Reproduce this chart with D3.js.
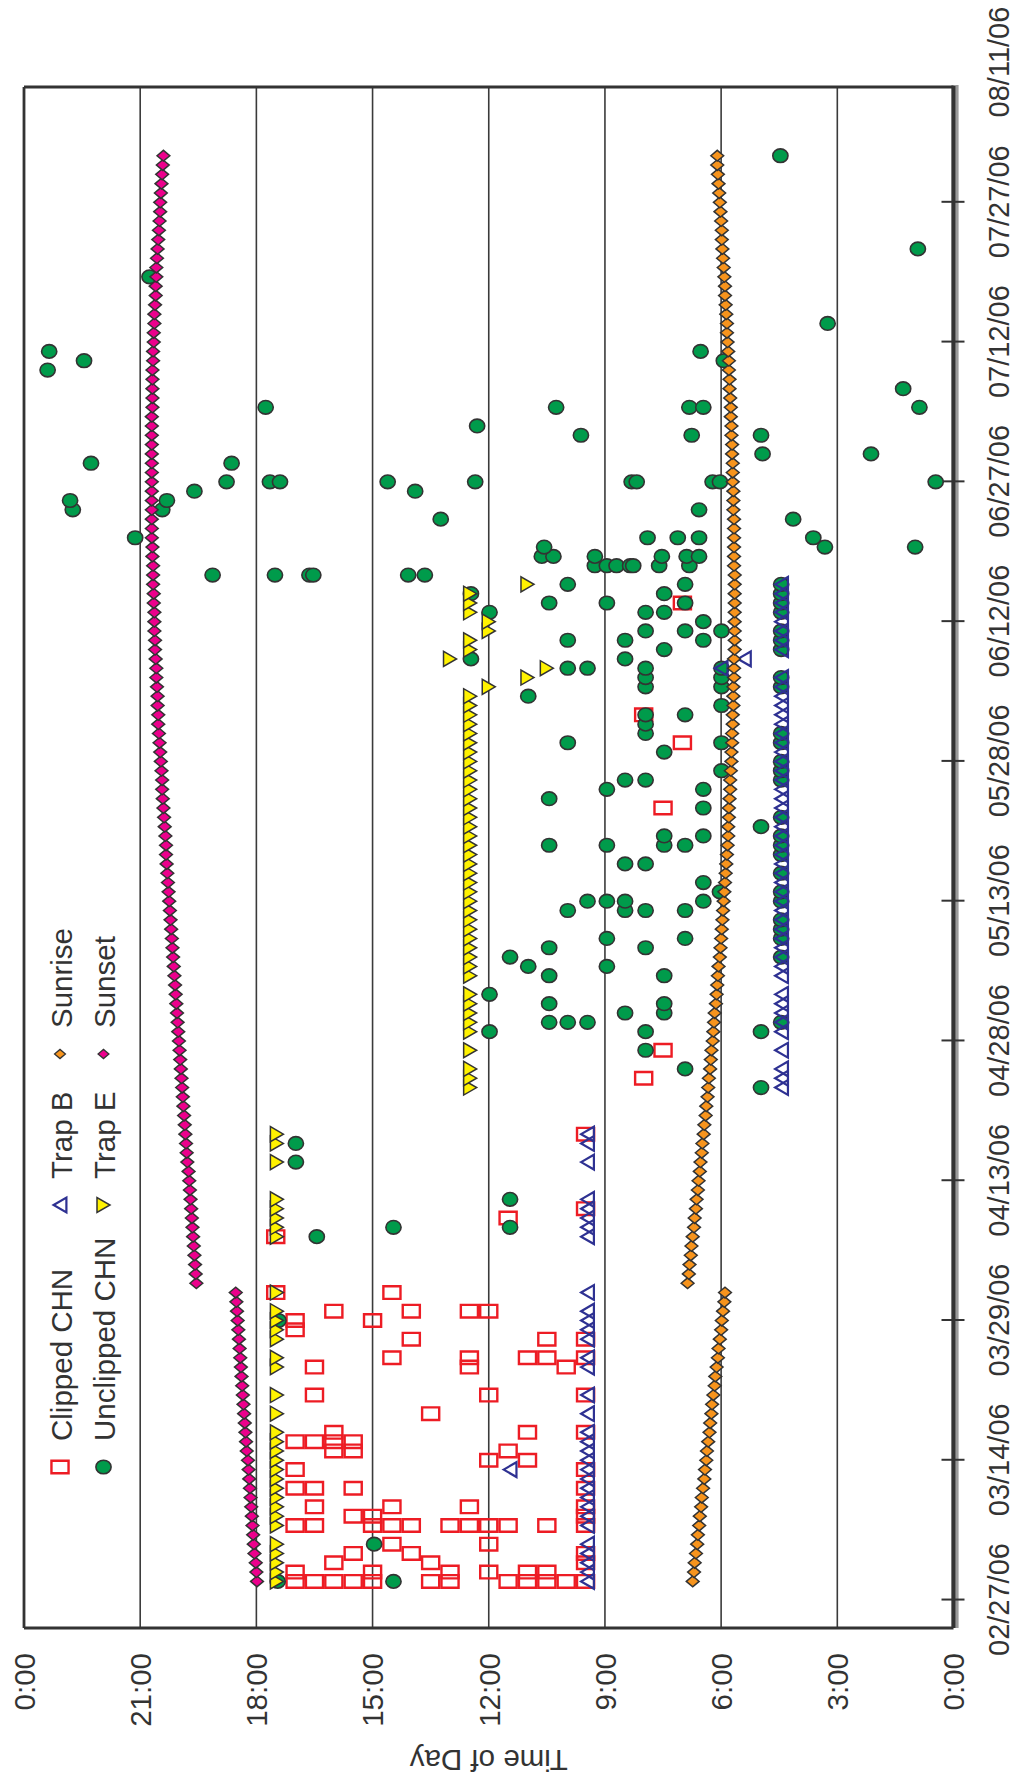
<!DOCTYPE html>
<html>
<head>
<meta charset="utf-8">
<script src="https://cdn.jsdelivr.net/npm/d3@7"></script>
<style>
  html, body { margin: 0; padding: 0; background: #fff; }
  svg { display: block; }
  text { font-family: "Liberation Sans", Arial, Helvetica, sans-serif; fill: #333; }
</style>
</head>
<body>
<svg id="chart" width="1016" height="1787"></svg>
<script>
// ---------------- data ----------------
const YEAR = 2006;
const dateTickLabels = ["02/27","03/14","03/29","04/13","04/28","05/13","05/28","06/12","06/27","07/12","07/27","08/11"];
const timeTicks = [0, 3, 6, 9, 12, 15, 18, 21, 24];

// Clipped CHN captures: [date, hour of day]
const clippedCHN = [
  ["03/01",17],["03/01",16.5],["03/01",16],["03/01",15.5],["03/01",15],["03/01",13.5],["03/01",13],["03/01",11.5],["03/01",11],["03/01",10.5],["03/01",10],["03/01",9.5],
  ["03/02",17],["03/02",15],["03/02",13],["03/02",12],["03/02",11],["03/02",10.5],
  ["03/03",16],["03/03",13.5],["03/03",9.5],
  ["03/04",15.5],["03/04",14],["03/04",9.5],
  ["03/05",14.5],["03/05",12],
  ["03/07",17],["03/07",16.5],["03/07",15],["03/07",14.5],["03/07",14],["03/07",13],["03/07",12.5],["03/07",12],["03/07",11.5],["03/07",10.5],["03/07",9.5],
  ["03/08",15.5],["03/08",15],["03/08",9.5],
  ["03/09",16.5],["03/09",14.5],["03/09",12.5],["03/09",9.5],
  ["03/11",17],["03/11",16.5],["03/11",15.5],["03/11",9.5],
  ["03/13",17],["03/13",9.5],
  ["03/14",12],["03/14",11],
  ["03/15",16],["03/15",15.5],["03/15",11.5],
  ["03/16",17],["03/16",16.5],["03/16",16],["03/16",15.5],
  ["03/17",16],["03/17",11],["03/17",9.5],
  ["03/19",13.5],
  ["03/21",16.5],["03/21",12],["03/21",9.5],
  ["03/24",16.5],["03/24",12.5],["03/24",10],
  ["03/25",14.5],["03/25",12.5],["03/25",11],["03/25",10.5],["03/25",9.5],
  ["03/27",14],["03/27",10.5],["03/27",9.5],
  ["03/28",17],
  ["03/29",17],["03/29",15],
  ["03/30",16],["03/30",14],["03/30",12.5],["03/30",12],
  ["04/01",17.5],["04/01",14.5],
  ["04/07",17.5],
  ["04/09",11.5],
  ["04/10",9.5],
  ["04/18",9.5],
  ["04/24",8],
  ["04/27",7.5],
  ["05/23",7.5],
  ["05/30",7],
  ["06/02",8],
  ["06/14",7]
];

// Unclipped CHN captures: [date, hour of day]
const unclippedCHN = [
  ["03/01",17.45],["03/01",14.46],["03/05",14.96],["03/29",17.43],["04/07",16.44],
  ["04/08",14.46],["04/08",11.45],["04/11",11.45],["04/15",16.98],["04/17",16.98],
  ["04/23",4.97],["04/25",6.93],["04/27",7.95],
  ["04/29",11.98],["04/29",7.95],["04/29",4.97],
  ["04/30",10.44],["04/30",9.96],["04/30",9.45],["04/30",4.45],
  ["05/01",8.48],["05/01",7.47],
  ["05/02",10.44],["05/02",7.47],
  ["05/03",11.98],
  ["05/05",10.44],["05/05",7.47],
  ["05/06",10.98],["05/06",8.95],
  ["05/07",11.45],["05/07",4.45],
  ["05/08",10.44],["05/08",7.95],
  ["05/09",8.95],["05/09",6.93],["05/09",4.45],
  ["05/10",4.45],["05/11",4.45],
  ["05/12",9.96],["05/12",8.48],["05/12",7.95],["05/12",6.93],
  ["05/13",9.45],["05/13",8.95],["05/13",8.48],["05/13",6.46],["05/13",4.45],
  ["05/14",6.03],["05/14",4.45],
  ["05/15",6.46],
  ["05/16",4.45],
  ["05/17",8.48],["05/17",7.95],
  ["05/18",4.45],
  ["05/19",10.44],["05/19",8.95],["05/19",7.47],["05/19",6.93],["05/19",4.45],
  ["05/20",7.47],["05/20",6.46],["05/20",4.45],
  ["05/21",4.97],
  ["05/22",4.45],
  ["05/23",6.46],
  ["05/24",10.44],
  ["05/25",8.95],["05/25",6.46],
  ["05/26",8.48],["05/26",7.95],["05/26",4.45],
  ["05/27",5.99],["05/27",4.45],
  ["05/28",4.45],
  ["05/29",7.47],
  ["05/30",9.96],["05/30",5.99],["05/30",4.45],
  ["05/31",7.95],["05/31",4.45],
  ["06/01",7.95],
  ["06/02",7.95],["06/02",6.93],
  ["06/03",5.99],
  ["06/04",10.98],
  ["06/05",7.95],["06/05",5.99],["06/05",4.45],
  ["06/06",7.95],["06/06",5.99],["06/06",4.45],
  ["06/07",9.96],["06/07",9.45],["06/07",7.95],["06/07",5.99],
  ["06/08",12.46],["06/08",8.48],
  ["06/09",7.47],["06/09",4.45],
  ["06/10",9.96],["06/10",8.48],["06/10",6.46],["06/10",4.45],
  ["06/11",7.95],["06/11",6.93],["06/11",5.99],["06/11",4.45],
  ["06/12",6.46],
  ["06/13",11.98],["06/13",7.95],["06/13",7.47],["06/13",4.45],
  ["06/14",10.44],["06/14",8.95],["06/14",6.93],["06/14",4.45],
  ["06/15",12.46],["06/15",7.47],["06/15",4.45],
  ["06/16",9.96],["06/16",6.93],["06/16",4.45],
  ["06/17",19.13],["06/17",17.52],["06/17",16.63],["06/17",16.53],["06/17",14.08],["06/17",13.65],
  ["06/18",9.26],["06/18",8.95],["06/18",8.7],["06/18",8.35],["06/18",8.27],["06/18",7.6],["06/18",6.82],
  ["06/19",10.63],["06/19",10.33],["06/19",9.26],["06/19",7.53],["06/19",6.89],["06/19",6.57],
  ["06/20",10.57],["06/20",3.32],["06/20",0.99],
  ["06/21",21.13],["06/21",7.9],["06/21",7.12],["06/21",6.57],["06/21",3.62],
  ["06/23",13.24],["06/23",4.14],
  ["06/24",22.74],["06/24",20.43],["06/24",6.57],
  ["06/25",22.81],["06/25",20.31],
  ["06/26",19.6],["06/26",13.9],
  ["06/27",18.77],["06/27",17.65],["06/27",17.39],["06/27",14.61],["06/27",12.35],["06/27",8.31],["06/27",8.18],["06/27",6.22],["06/27",6.03],["06/27",0.46],
  ["06/29",22.27],["06/29",18.64],
  ["06/30",4.93],["06/30",2.13],
  ["07/02",9.62],["07/02",6.76],["07/02",4.97],
  ["07/03",12.3],
  ["07/05",17.76],["07/05",10.26],["07/05",6.82],["07/05",6.46],["07/05",0.88],
  ["07/07",1.3],
  ["07/09",23.39],
  ["07/10",22.45],["07/10",5.93],
  ["07/11",23.35],["07/11",6.53],
  ["07/14",3.25],
  ["07/19",20.76],
  ["07/22",0.92],
  ["08/01",4.47]
];

// Trap checks, grouped by hour of day: [hour, [dates]]
const earlyTrapDays = ["03/01","03/02","03/03","03/04","03/05","03/07","03/08","03/09","03/10","03/11","03/12","03/13","03/14","03/15","03/16","03/17","03/19","03/21","03/24","03/25","03/27","03/28","03/29","03/30","04/01","04/07","04/08","04/09","04/10","04/11","04/15","04/17","04/18"];

const trapB = [
  [9.45, earlyTrapDays],
  [11.45, ["03/13"]],
  [4.44, ["04/23","04/24","04/25","04/27","04/29","04/30","05/01","05/02","05/03","05/05","05/06","05/07","05/08","05/09","05/10","05/11","05/12","05/13","05/14","05/15","05/16","05/17","05/18","05/19","05/20","05/21","05/22","05/23","05/24","05/25","05/26","05/27","05/28","05/29","05/30","05/31","06/01","06/02","06/03","06/04","06/05","06/06","06/09","06/10","06/11","06/12","06/13","06/14","06/15","06/16"]],
  [6.0, ["06/07"]],
  [5.4, ["06/08"]]
];

const trapE = [
  [17.47, earlyTrapDays],
  [12.48, ["04/23","04/24","04/25","04/27","04/29","04/30","05/01","05/02","05/03","05/05","05/06","05/07","05/08","05/09","05/10","05/11","05/12","05/13","05/14","05/15","05/16","05/17","05/18","05/19","05/20","05/21","05/22","05/23","05/24","05/25","05/26","05/27","05/28","05/29","05/30","05/31","06/01","06/02","06/03","06/04","06/09","06/10","06/13","06/14","06/15"]],
  [12.0, ["06/05","06/11","06/12"]],
  [11.0, ["06/06","06/16"]],
  [10.5, ["06/07"]],
  [13.0, ["06/08"]]
];

// Daily sunrise / sunset (clock minutes after midnight), starting 03/01
const sunStart = "03/01";
const sunriseMinutes = [
  404,402,401,399,397,396,394,393,391,390,388,386,385,383,382,380,378,377,375,374,372,370,369,367,365,364,362,360,359,357,355,
  354,
  412,410,409,407,406,404,402,401,399,398,396,395,393,392,390,389,387,386,384,383,381,380,379,377,376,375,373,372,371,
  370,368,367,366,365,364,362,361,360,359,358,357,356,355,354,353,352,351,350,349,349,348,348,347,346,346,345,344,344,343,343,
  342,342,341,341,341,340,340,340,339,339,339,339,339,339,339,339,339,340,340,340,340,340,340,341,341,341,342,342,342,343,
  343,344,344,345,345,346,347,347,348,348,349,350,351,351,352,353,354,354,355,356,357,358,359,359,360,361,362,363,364,365,366,
  366
];
const sunsetMinutes = [
  1079,1080,1081,1083,1084,1085,1086,1087,1088,1089,1090,1091,1092,1093,1095,1096,1097,1098,1099,1100,1101,1102,1103,1104,1105,1106,1107,1108,1109,1110,1111,
  1112,
  1173,1174,1175,1176,1177,1178,1179,1180,1181,1182,1183,1184,1185,1187,1188,1189,1190,1191,1192,1193,1194,1195,1196,1197,1198,1199,1200,1201,1202,
  1203,1204,1205,1206,1207,1208,1209,1210,1211,1212,1213,1214,1215,1216,1217,1218,1219,1220,1220,1221,1222,1223,1224,1225,1226,1226,1227,1228,1229,1230,1231,
  1232,1232,1233,1233,1234,1235,1235,1236,1237,1237,1238,1238,1238,1239,1239,1240,1240,1240,1241,1241,1242,1242,1242,1242,1242,1242,1242,1242,1242,1242,
  1242,1242,1242,1242,1241,1241,1241,1241,1241,1240,1240,1239,1239,1238,1238,1237,1236,1236,1235,1235,1234,1233,1232,1231,1230,1229,1229,1228,1227,1226,1225,
  1224
];

// ---------------- chart ----------------
const parseDate = s => d3.utcParse("%m/%d/%Y")(s + "/" + YEAR);

// The chart is laid out landscape (1787 x 1016) and turned a quarter turn onto the page.
const svg = d3.select("#chart");
svg.append("rect").attr("width", 1016).attr("height", 1787).attr("fill", "#fff");
const g = svg.append("g").attr("transform", "translate(0,1787) rotate(-90)");

const plot = { left: 159, right: 1700, top: 24, bottom: 953.5 };

const x = d3.scaleUtc()
  .domain([Date.UTC(YEAR, 1, 24), Date.UTC(YEAR, 7, 8, 9)])
  .range([plot.left, plot.right]);
const y = d3.scaleLinear().domain([0, 24]).range([plot.bottom, plot.top]);

const ink = "#333";
const fontSize = 29.5;

// horizontal grid at each 3-hour tick
g.append("g").selectAll("line")
  .data(timeTicks.filter(t => t > 0 && t < 24))
  .join("line")
  .attr("x1", plot.left).attr("x2", plot.right)
  .attr("y1", d => y(d)).attr("y2", d => y(d))
  .attr("stroke", "#3a3a3a").attr("stroke-width", 1.6);

// plot frame
const frame = g.append("g").attr("stroke", ink).attr("fill", "none");
frame.append("line").attr("x1", plot.left).attr("x2", plot.right).attr("y1", plot.top).attr("y2", plot.top).attr("stroke-width", 2.8);
frame.append("line").attr("x1", plot.left).attr("x2", plot.left).attr("y1", plot.top).attr("y2", plot.bottom).attr("stroke-width", 2.8);
frame.append("line").attr("x1", plot.right).attr("x2", plot.right).attr("y1", plot.top).attr("y2", plot.bottom).attr("stroke-width", 2.8);
g.append("line").attr("x1", plot.left).attr("x2", plot.right + 2).attr("y1", plot.bottom + 3.6).attr("y2", plot.bottom + 3.6)
  .attr("stroke", "#9a9a9a").attr("stroke-width", 3);
g.append("line").attr("x1", plot.left).attr("x2", plot.right + 1.5).attr("y1", plot.bottom).attr("y2", plot.bottom)
  .attr("stroke", ink).attr("stroke-width", 4.3);

// date axis
const dateTicks = dateTickLabels.map(parseDate);
const xAxis = d3.axisBottom(x)
  .tickValues(dateTicks)
  .tickFormat(d3.utcFormat("%m/%d/%y"))
  .tickSizeInner(11).tickSizeOuter(0);
const gx = g.append("g").attr("transform", `translate(0,${plot.bottom})`).call(xAxis);
gx.select(".domain").remove();
gx.selectAll(".tick line").attr("y1", -12).attr("stroke", ink).attr("stroke-width", 2)
  .attr("display", d => (d > x.domain()[1] ? "none" : null));
gx.selectAll(".tick text").attr("y", 45.5).attr("dy", "0.35em")
  .attr("font-size", 29).attr("font-family", null).attr("fill", ink);

// time-of-day axis
const yAxis = d3.axisLeft(y)
  .tickValues(timeTicks)
  .tickFormat(h => (h % 24) + ":00")
  .tickSize(0).tickPadding(25);
const gy = g.append("g").attr("transform", `translate(${plot.left},0)`).call(yAxis);
gy.select(".domain").remove();
gy.selectAll(".tick text").attr("dy", "0.35em")
  .attr("font-size", fontSize).attr("font-family", null).attr("fill", ink);

g.append("text")
  .attr("transform", `translate(27,${(plot.top + plot.bottom) / 2}) rotate(-90)`)
  .attr("text-anchor", "middle").attr("dominant-baseline", "central")
  .attr("font-size", fontSize)
  .text("Time of Day");

// ---------------- markers ----------------
const shapes = {
  square: "M-6.3,-8.55H6.3V8.55H-6.3Z",
  triUp: "M0,-6.4L7.4,6.4H-7.4Z",
  triDown: "M-7.5,-6.5H7.5L0,6.5Z",
  diamond: "M0,-6.4L5.4,0L0,6.4L-5.4,0Z"
};
const styles = {
  clipped:   { shape: "square",  fill: "none",    stroke: "#ed1c24", sw: 2.4 },
  unclipped: { shape: "circle",  fill: "#009b4b", stroke: ink,       sw: 1.6 },
  trapB:     { shape: "triUp",   fill: "none",    stroke: "#2e3192", sw: 2.2 },
  trapE:     { shape: "triDown", fill: "#fff200", stroke: ink,       sw: 1.5 },
  sunrise:   { shape: "diamond", fill: "#f7941d", stroke: ink,       sw: 1.5 },
  sunset:    { shape: "diamond", fill: "#ec008c", stroke: ink,       sw: 1.5 }
};

function drawMarks(parent, pts, st) {
  const layer = parent.append("g");
  if (st.shape === "circle") {
    layer.selectAll("ellipse").data(pts).join("ellipse")
      .attr("cx", d => d[0]).attr("cy", d => d[1])
      .attr("rx", 6.8).attr("ry", 7.6)
      .attr("fill", st.fill).attr("stroke", st.stroke).attr("stroke-width", st.sw);
  } else {
    layer.selectAll("path").data(pts).join("path")
      .attr("d", shapes[st.shape])
      .attr("transform", d => `translate(${d[0]},${d[1]})`)
      .attr("fill", st.fill).attr("stroke", st.stroke).attr("stroke-width", st.sw)
      .attr("stroke-linejoin", "miter");
  }
}

const pairPts = arr => arr.map(([d, h]) => [x(parseDate(d)), y(h)]);
const groupPts = groups => groups.flatMap(([h, days]) => days.map(d => [x(parseDate(d)), y(h)]));
const sunPts = mins => mins.map((m, i) => [x(d3.utcDay.offset(parseDate(sunStart), i)), y(m / 60)]);

const marks = g.append("g");
drawMarks(marks, pairPts(clippedCHN), styles.clipped);
drawMarks(marks, pairPts(unclippedCHN), styles.unclipped);
drawMarks(marks, groupPts(trapB), styles.trapB);
drawMarks(marks, groupPts(trapE), styles.trapE);
drawMarks(marks, sunPts(sunriseMinutes), styles.sunrise);
drawMarks(marks, sunPts(sunsetMinutes), styles.sunset);

// ---------------- legend ----------------
const legendItems = [
  { label: "Clipped CHN",   st: styles.clipped,   sx: 320, ty: 0 },
  { label: "Unclipped CHN", st: styles.unclipped, sx: 320, ty: 1 },
  { label: "Trap B",        st: styles.trapB,     sx: 582, ty: 0 },
  { label: "Trap E",        st: styles.trapE,     sx: 582, ty: 1 },
  { label: "Sunrise",       st: styles.sunrise,   sx: 733, ty: 0 },
  { label: "Sunset",        st: styles.sunset,    sx: 733, ty: 1 }
];
const rowMid = [60, 103.5];
const rowBase = [71.5, 115];
const legend = g.append("g");
legendItems.forEach(it => {
  const st = it.st;
  const small = st.shape === "diamond" ? 0.85 : 1;
  if (st.shape === "circle") {
    legend.append("ellipse").attr("cx", it.sx).attr("cy", rowMid[it.ty]).attr("rx", 6.8).attr("ry", 7.6)
      .attr("fill", st.fill).attr("stroke", st.stroke).attr("stroke-width", st.sw);
  } else {
    legend.append("path").attr("d", shapes[st.shape])
      .attr("transform", `translate(${it.sx},${rowMid[it.ty]}) scale(${small})`)
      .attr("fill", st.fill).attr("stroke", st.stroke).attr("stroke-width", st.sw);
  }
  legend.append("text")
    .attr("x", it.sx + 26).attr("y", rowBase[it.ty])
    .attr("font-size", fontSize)
    .text(it.label);
});
</script>
</body>
</html>
